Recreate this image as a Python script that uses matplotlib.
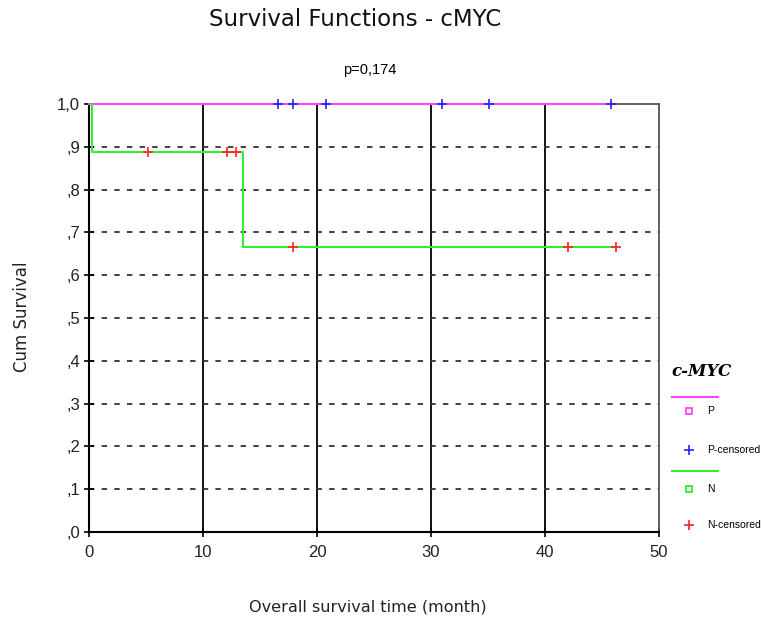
import matplotlib
matplotlib.use("Agg")
import matplotlib.pyplot as plt
from matplotlib.lines import Line2D

plt.rcParams["font.family"] = ["Liberation Sans", "DejaVu Sans"]

# Data
p_times = [0.0, 45.8]
p_surv = [1.0, 1.0]
p_cens_t = [16.6, 17.9, 20.8, 31.0, 35.1, 45.8]
p_cens_s = [1.0, 1.0, 1.0, 1.0, 1.0, 1.0]

n_times = [0.0, 0.3, 13.5, 46.2]
n_surv = [1.0, 0.889, 0.667, 0.667]
n_cens_t = [5.2, 12.1, 12.9, 17.9, 42.0, 46.2]
n_cens_s = [0.889, 0.889, 0.889, 0.667, 0.667, 0.667]

xticks = [0, 10, 20, 30, 40, 50]
yticks = [0.0, 0.1, 0.2, 0.3, 0.4, 0.5, 0.6, 0.7, 0.8, 0.9, 1.0]
ylabels = [",0", ",1", ",2", ",3", ",4", ",5", ",6", ",7", ",8", ",9", "1,0"]

W, H = 763, 627
fig = plt.figure(figsize=(W / 100, H / 100), dpi=100)
ax = fig.add_axes([89 / W, 1 - 532 / H, (659 - 89) / W, (532 - 104) / H])
ax.set_xlim(0, 50)
ax.set_ylim(0, 1.0)

for x in xticks[1:-1]:
    ax.axvline(x, color="black", lw=1.3, zorder=1)
for y in yticks[1:-1]:
    ax.axhline(y, color="#333333", lw=1.3, ls=(0, (3, 4)), zorder=1)

ax.step(p_times, p_surv, where="post", color="#ff44ff", lw=1.5, zorder=3, clip_on=False)
ax.step(n_times, n_surv, where="post", color="#33ee33", lw=1.5, zorder=3)
ax.plot(p_cens_t, p_cens_s, ls="none", marker="+", ms=7, mew=1.2, color="#2222ff", zorder=4, clip_on=False)
ax.plot(n_cens_t, n_cens_s, ls="none", marker="+", ms=7, mew=1.2, color="#ff2222", zorder=4)

ax.set_xticks(xticks)
ax.set_xticklabels([str(v) for v in xticks])
ax.set_yticks(yticks)
ax.set_yticklabels(ylabels)
ax.tick_params(axis="both", direction="inout", length=7, width=1.2, labelsize=12,
               colors="black", labelcolor="#222222")
ax.tick_params(axis="x", pad=6)
ax.tick_params(axis="y", pad=3)
for s in ["left", "bottom"]:
    ax.spines[s].set_linewidth(1.5)
    ax.spines[s].set_color("black")
for s in ["top", "right"]:
    ax.spines[s].set_linewidth(1.3)
    ax.spines[s].set_color("#555555")

fig.text(355 / W, 1 - 20 / H, "Survival Functions - cMYC", ha="center", va="center",
         fontsize=16.5, color="#111111", family="DejaVu Sans")
fig.text(370 / W, 1 - 70 / H, "p=0,174", ha="center", va="center", fontsize=10.5)
fig.text(22 / W, 1 - 317 / H, "Cum Survival", ha="center", va="center", rotation=90,
         fontsize=12, color="#222222", family="DejaVu Sans")
fig.text(368 / W, 1 - 607 / H, "Overall survival time (month)", ha="center", va="center",
         fontsize=11.6, color="#222222", family="DejaVu Sans")

# Legend (manual)
fx = lambda px: px / W
fy = lambda py: 1 - py / H
fig.text(fx(671), fy(372), "c-MYC", ha="left", va="center", fontsize=12,
         family="DejaVu Serif", style="italic", weight="bold")
fig.add_artist(Line2D([fx(672), fx(718)], [fy(397), fy(397)], color="#ff44ff", lw=1.5))
fig.add_artist(Line2D([fx(689)], [fy(411)], marker="s", ms=5, mfc="none", mec="#ff44ff", mew=1.3, ls="none"))
fig.text(fx(707), fy(411), "P", ha="left", va="center", fontsize=7.5)
fig.add_artist(Line2D([fx(689)], [fy(450)], marker="+", ms=7, mew=1.2, color="#2222ff", ls="none"))
fig.text(fx(707), fy(450), "P-censored", ha="left", va="center", fontsize=7.5)
fig.add_artist(Line2D([fx(672), fx(718)], [fy(471), fy(471)], color="#33ee33", lw=1.5))
fig.add_artist(Line2D([fx(689)], [fy(489)], marker="s", ms=5, mfc="none", mec="#33ee33", mew=1.3, ls="none"))
fig.text(fx(707), fy(489), "N", ha="left", va="center", fontsize=7.5)
fig.add_artist(Line2D([fx(689)], [fy(525)], marker="+", ms=7, mew=1.2, color="#ff2222", ls="none"))
fig.text(fx(707), fy(525), "N-censored", ha="left", va="center", fontsize=7.5)

fig.savefig("out.png", dpi=100)
